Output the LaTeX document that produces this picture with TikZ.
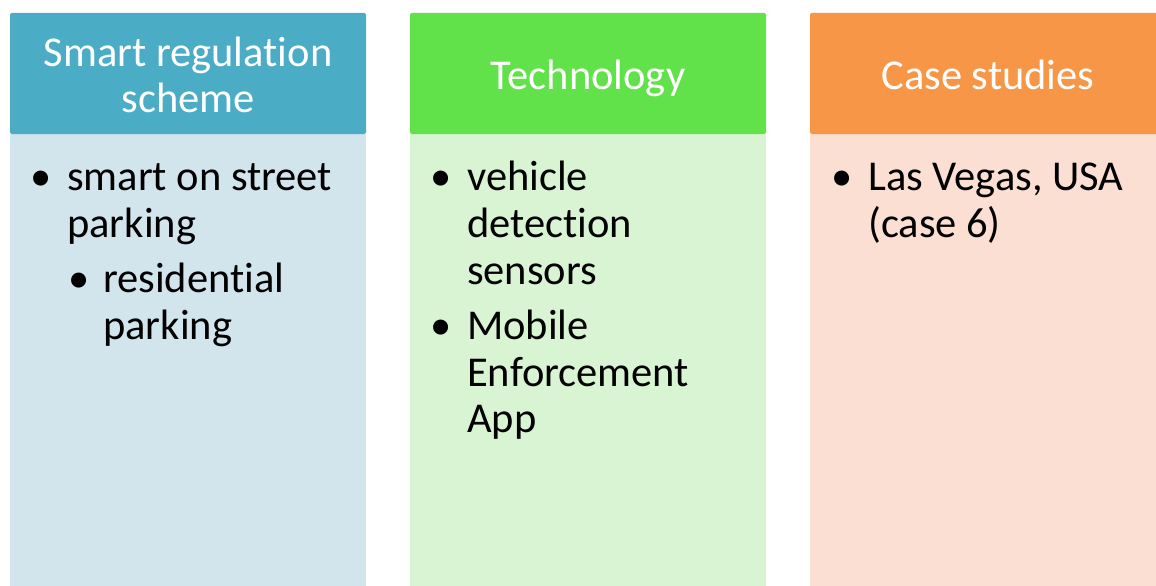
\documentclass[tikz,border=0pt]{standalone}
\usepackage{fontspec}
\setmainfont[Ligatures=NoCommon]{Carlito}
\definecolor{headA}{HTML}{4BACC6}
\definecolor{bodyA}{HTML}{D2E4EC}
\definecolor{headB}{HTML}{62E24A}
\definecolor{bodyB}{HTML}{D9F4D3}
\definecolor{headC}{HTML}{F79646}
\definecolor{bodyC}{HTML}{FBDFD3}
\tikzset{
  headtext/.style={text=white, font=\fontsize{42.5}{45}\selectfont, anchor=base, inner sep=0pt},
  itemtext/.style={text=black, font=\fontsize{42.5}{47}\selectfont, anchor=base west, inner sep=0pt},
  bul/.style={text=black, font=\fontsize{42.5}{47}\selectfont, anchor=base, inner sep=0pt}
}
\begin{document}
\begin{tikzpicture}[x=1pt,y=-1pt]
\useasboundingbox (0,0) rectangle (1156,586);
\fill[white] (0,0) rectangle (1156,586);
% column panels
\fill[bodyA] (10,134) rectangle (366,586);
\fill[headA, rounded corners=2pt] (10,134) |- (366,13) -- (366,134) -- cycle;
\fill[bodyB] (410,134) rectangle (766,586);
\fill[headB, rounded corners=2pt] (410,134) |- (766,13) -- (766,134) -- cycle;
\fill[bodyC] (810,134) rectangle (1166,586);
\fill[headC, rounded corners=2pt] (810,134) |- (1166,13) -- (1166,134) -- cycle;
% headings
\node[headtext] (hA1) at (188,66.5) {Smart regulation};
\node[headtext] (hA2) at (188,112.5) {scheme};
\node[headtext] (hB) at (588,89.5) {Technology};
\node[headtext] (hC) at (988,89.5) {Case studies};
% first column items
\node[bul] (bA1) at (41,190) {•};
\node[itemtext] (tA1) at (67,190) {smart on street};
\node[itemtext] (tA2) at (67,237) {parking};
\node[bul] (bA2) at (79,292) {•};
\node[itemtext] (tA3) at (103,292) {residential};
\node[itemtext] (tA4) at (103,339) {parking};
% second column items
\node[bul] (bB1) at (441,190) {•};
\node[itemtext] (tB1) at (467,190) {vehicle};
\node[itemtext] (tB2) at (467,237) {detection};
\node[itemtext] (tB3) at (467,284) {sensors};
\node[bul] (bB2) at (441,339) {•};
\node[itemtext] (tB4) at (467,339) {Mobile};
\node[itemtext] (tB5) at (467,386) {Enforcement};
\node[itemtext] (tB6) at (467,432) {App};
% third column items
\node[bul] (bC1) at (842,190) {•};
\node[itemtext] (tC1) at (868,190) {Las Vegas, USA};
\node[itemtext] (tC2) at (868,237) {(case 6)};
\end{tikzpicture}
\end{document}
